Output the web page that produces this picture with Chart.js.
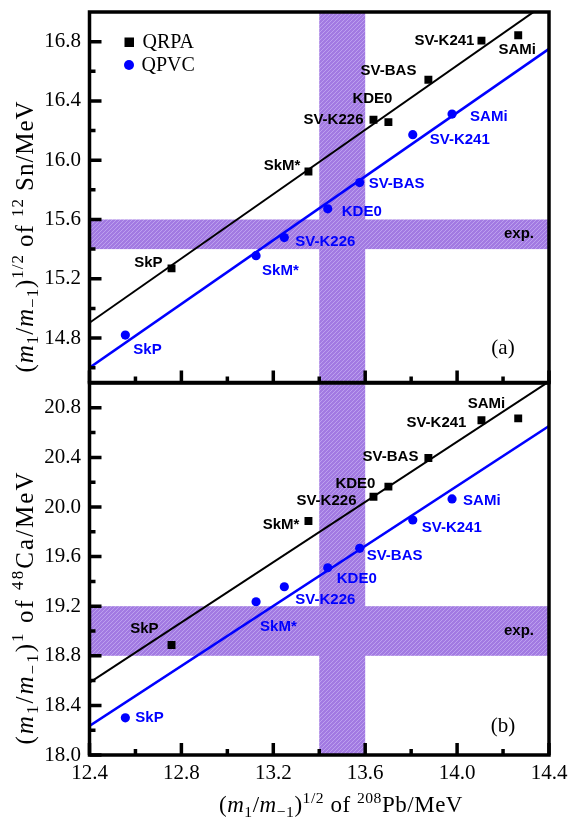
<!DOCTYPE html>
<html><head><meta charset="utf-8">
<script src="https://cdn.jsdelivr.net/npm/chart.js@4.4.1/dist/chart.umd.min.js"></script>
<style>
html,body{margin:0;padding:0;background:#fff;}
#wrap{position:relative;width:576px;height:817px;overflow:hidden;background:#fff;}
canvas{position:absolute;left:0;}
#ca{top:0;}
#cb{top:370px;}
</style></head><body>
<div id="wrap"><canvas id="ca" width="576" height="395"></canvas><canvas id="cb" width="576" height="447"></canvas></div>
<script>
// ---------------- data ----------------
const models   = ['SkP','SkM*','SV-K226','KDE0','SV-BAS','SV-K241','SAMi'];
const pbQRPA   = [12.757,13.353,13.636,13.701,13.875,14.106,14.266];
const pbQPVC   = [12.556,13.125,13.248,13.437,13.576,13.807,13.978];
const snQRPA   = [15.27,15.924,16.273,16.257,16.543,16.807,16.843];
const snQPVC   = [14.82,15.356,15.478,15.672,15.849,16.172,16.311];
const caQRPA   = [18.887,19.887,20.083,20.164,20.395,20.699,20.715];
const caQPVC   = [18.30,19.236,19.357,19.51,19.667,19.895,20.065];
const fitX      = [12.4,14.4];
const snQRPAfit = [14.903,17.073];
const snQPVCfit = [14.600,16.751];
const caQRPAfit = [18.583,21.012];
const caQPVCfit = [18.234,20.653];
const expPb = [13.4,13.6];
const expSn = [15.4,15.6];
const expCa = [18.8,19.2];
const xRange  = [12.4,14.4];
const snRange = [14.5,17.0];
const caRange = [18.0,21.0];
const xTicks  = [12.4,12.8,13.2,13.6,14.0,14.4];
const snTicks = [14.8,15.2,15.6,16.0,16.4,16.8];
const caTicks = [18.0,18.4,18.8,19.2,19.6,20.0,20.4,20.8];

// ---------------- styles ----------------
const serif = '"Liberation Serif","Times New Roman",serif';
const sans  = '"Liberation Sans",Arial,sans-serif';
const labelFont = 'bold 15px ' + sans;
const BLUE = '#0000ff';
const offQRPA_a = [[-9,-6,'right'],[-8,-6,'right'],[-10,0,'right'],[4,-23,'right'],[-12,-9,'right'],[-7,0,'right'],[-1,15,'center']];
const offQPVC_a = [[8,15,'left'],[6,15,'left'],[11,4,'left'],[14,3,'left'],[9,1,'left'],[17,5,'left'],[18,3,'left']];
const offQRPA_b = [[-13,-16,'right'],[-9,4,'right'],[-17,4,'right'],[-13,-3,'right'],[-10,-1,'right'],[-15,3,'right'],[-13,-14,'right']];
const offQPVC_b = [[10,0,'left'],[4,25,'left'],[11,13,'left'],[9,11,'left'],[7,8,'left'],[9,8,'left'],[11,2,'left']];

const titleX = [['(', 'n'],['m','i'],['1','sub'],['/','n'],['m','i'],['\u22121','sub'],[')','n'],['1/2','sup'],[' of ','n'],['208','sup'],['Pb/MeV','n']];
const titleSn = [['(', 'n'],['m','i'],['1','sub'],['/','n'],['m','i'],['\u22121','sub'],[')','n'],['1/2','sup'],[' of ','n'],['12','sup'],[' Sn/MeV','n']];
const titleCa = [['(', 'n'],['m','i'],['1','sub'],['/','n'],['m','i'],['\u22121','sub'],[')','n'],['1','sup'],[' of ','n'],['48','sup'],['Ca/MeV','n']];

function makePattern(ctx){
  const c = document.createElement('canvas'); c.width = 4; c.height = 4;
  const g = c.getContext('2d');
  g.fillStyle = 'rgb(162,122,226)'; g.fillRect(0,0,4,4);
  g.strokeStyle = 'rgb(188,160,238)'; g.lineWidth = 1;
  g.beginPath(); g.moveTo(-1,5); g.lineTo(5,-1); g.stroke();
  return ctx.createPattern(c,'repeat');
}

function drawRich(ctx, segs, x, y, size, rotate, target){
  ctx.save(); ctx.translate(x,y); if (rotate) ctx.rotate(-Math.PI/2);
  const small = size*0.68;
  const parts = segs.map(([t,k])=>{
    const sz = (k==='sub'||k==='sup') ? small : size;
    const font = (k==='i'?'italic ':'') + sz + 'px ' + serif;
    ctx.font = font;
    return {t,k,font,w:ctx.measureText(t).width};
  });
  let total = parts.reduce((a,p)=>a+p.w,0);
  const nch = parts.reduce((a,p)=>a+p.t.length,0);
  const sp = target ? Math.max(0,(target-total)/nch) : 0;
  total += sp*nch;
  let cx = -total/2;
  ctx.textBaseline = 'alphabetic'; ctx.textAlign = 'left'; ctx.fillStyle = '#000';
  parts.forEach(p=>{
    ctx.font = p.font;
    let dy = 0;
    if (p.k==='sub') dy = size*0.2;
    if (p.k==='sup') dy = -size*0.4;
    for (const ch of p.t){
      ctx.fillText(ch, cx, dy);
      cx += ctx.measureText(ch).width + sp;
    }
  });
  ctx.restore();
}

function minorOf(ticks, range){
  const step = ticks[1]-ticks[0];
  const out = [];
  const cand = [ticks[0]-step/2, ...ticks.map(t=>t+step/2)];
  cand.forEach(v=>{ if (v>range[0]+1e-9 && v<range[1]-1e-9) out.push(v); });
  return out;
}

function pts(xs, ys){ return xs.map((x,i)=>({x, y:ys[i]})); }

function panel(id, c){
  const canvas = document.getElementById(id);
  const ctx0 = canvas.getContext('2d');
  const pattern = makePattern(ctx0);
  const deco = {
    id: 'deco',
    beforeDatasetsDraw(chart){
      const {ctx, chartArea:a, scales:{x,y}} = chart;
      ctx.save();
      ctx.beginPath(); ctx.rect(a.left,a.top,a.right-a.left,a.bottom-a.top); ctx.clip();
      ctx.fillStyle = pattern;
      const y1 = y.getPixelForValue(c.expY[1]), y0 = y.getPixelForValue(c.expY[0]);
      ctx.fillRect(a.left, y1, a.right-a.left, y0-y1);
      const x0 = x.getPixelForValue(expPb[0]), x1 = x.getPixelForValue(expPb[1]);
      ctx.fillRect(x0, a.top, x1-x0, a.bottom-a.top);
      ctx.restore();
    },
    afterDatasetsDraw(chart){
      const {ctx, chartArea:a, scales:{x,y}} = chart;
      ctx.save();
      ctx.font = labelFont; ctx.textBaseline = 'middle';
      chart.data.datasets.forEach((ds,i)=>{
        if (!ds.pointLabels) return;
        const meta = chart.getDatasetMeta(i);
        ctx.fillStyle = ds.labelColor;
        meta.data.forEach((el,j)=>{
          const o = ds.labelOffsets[j];
          ctx.textAlign = o[2];
          ctx.fillText(ds.pointLabels[j], el.x+o[0], el.y+o[1]);
        });
      });
      ctx.fillStyle = '#000'; ctx.textAlign = 'right';
      ctx.fillText('exp.', a.right-15, (y.getPixelForValue(c.expY[0])+y.getPixelForValue(c.expY[1]))/2);
      ctx.font = '21px ' + serif; ctx.textAlign = 'center';
      ctx.fillText(c.panelLabel, a.right-46, a.bottom-c.panelDy);
      if (c.legend){
        ctx.fillStyle = '#000';
        ctx.fillRect(a.left+35, a.top+25.5, 9.5, 9.5);
        ctx.fillStyle = BLUE;
        ctx.beginPath(); ctx.arc(a.left+39.5, a.top+53, 5, 0, Math.PI*2); ctx.fill();
        ctx.fillStyle = '#000'; ctx.textAlign = 'left'; ctx.font = '20px ' + serif;
        ctx.fillText('QRPA', a.left+53, a.top+30.5);
        ctx.fillText('QPVC', a.left+52, a.top+53.5);
      }
      ctx.restore();
    },
    afterDraw(chart){
      const {ctx, chartArea:a, scales:{x,y}} = chart;
      ctx.save();
      ctx.strokeStyle = '#000'; ctx.lineWidth = 3.5;
      ctx.strokeRect(a.left, a.top, a.right-a.left, a.bottom-a.top);
      ctx.lineCap = 'butt';
      ctx.beginPath();
      xTicks.forEach(v=>{ const px = x.getPixelForValue(v); ctx.moveTo(px,a.bottom); ctx.lineTo(px,a.bottom-12); });
      minorOf(xTicks,xRange).forEach(v=>{ const px = x.getPixelForValue(v); ctx.moveTo(px,a.bottom); ctx.lineTo(px,a.bottom-6); });
      c.yTicks.forEach(v=>{ const py = y.getPixelForValue(v); ctx.moveTo(a.left,py); ctx.lineTo(a.left+12,py); });
      minorOf(c.yTicks,c.yRange).forEach(v=>{ const py = y.getPixelForValue(v); ctx.moveTo(a.left,py); ctx.lineTo(a.left+6,py); });
      ctx.stroke();
      drawRich(ctx, c.yTitle, 33, c.yTitleY, 25, true, c.yTitleLen);
      if (c.xTitle) drawRich(ctx, c.xTitle, 341, a.bottom+57, 23, false, 244);
      ctx.restore();
    }
  };
  const tickFont = {family: serif, size: 21};
  return new Chart(canvas, {
    type: 'scatter',
    data: { datasets: [
      { data: pts(pbQRPA, c.qrpa), pointStyle:'rect', pointRadius:5.6, backgroundColor:'#000', borderWidth:0,
        pointLabels: models, labelOffsets: c.offQRPA, labelColor:'#000' },
      { data: pts(pbQPVC, c.qpvc), pointStyle:'circle', pointRadius:4.6, backgroundColor:BLUE, borderWidth:0,
        pointLabels: models, labelOffsets: c.offQPVC, labelColor:BLUE },
      { data: pts(fitX, c.qrpaFit), showLine:true, borderColor:'#000', borderWidth:2, pointRadius:0, clip:0 },
      { data: pts(fitX, c.qpvcFit), showLine:true, borderColor:BLUE, borderWidth:2.5, pointRadius:0, clip:0 }
    ]},
    options: {
      responsive:false, animation:false, events:[],
      layout:{ padding:{ left:0, right:27, top:c.padTop, bottom:c.padBottom } },
      plugins:{ legend:{display:false}, tooltip:{enabled:false} },
      scales:{
        x:{ type:'linear', min:xRange[0], max:xRange[1], display:c.showX,
            grid:{display:false, drawTicks:false}, border:{display:false},
            ticks:{ font:tickFont, color:'#000', padding:6, autoSkip:false, maxRotation:0, callback:v=>v.toFixed(1) },
            afterBuildTicks:s=>{ s.ticks = xTicks.map(v=>({value:v})); },
            afterFit:s=>{ s.height = c.showX ? 62 : 0; s.paddingLeft = 0; s.paddingRight = 0; s.paddingTop = 0; s.paddingBottom = 0; } },
        y:{ type:'linear', min:c.yRange[0], max:c.yRange[1],
            grid:{display:false, drawTicks:false}, border:{display:false},
            ticks:{ font:tickFont, color:'#000', padding:8.5, autoSkip:false, callback:v=>v.toFixed(1) },
            afterBuildTicks:s=>{ s.ticks = c.yTicks.map(v=>({value:v})); },
            afterFit:s=>{ s.width = 89.5; s.paddingTop = 0; s.paddingBottom = 0; s.paddingLeft = 0; s.paddingRight = 0; } }
      }
    },
    plugins:[deco]
  });
}

panel('ca', { qrpa:snQRPA, qpvc:snQPVC, qrpaFit:snQRPAfit, qpvcFit:snQPVCfit, expY:expSn,
  yRange:snRange, yTicks:snTicks, offQRPA:offQRPA_a, offQPVC:offQPVC_a,
  padTop:12, padBottom:12.5, showX:false, panelLabel:'(a)', panelDy:34, legend:true,
  yTitle:titleSn, yTitleY:236.5, yTitleLen:272, xTitle:null });
panel('cb', { qrpa:caQRPA, qpvc:caQPVC, qrpaFit:caQRPAfit, qpvcFit:caQPVCfit, expY:expCa,
  yRange:caRange, yTicks:caTicks, offQRPA:offQRPA_b, offQPVC:offQPVC_b,
  padTop:13, padBottom:0, showX:true, panelLabel:'(b)', panelDy:29, legend:false,
  yTitle:titleCa, yTitleY:237.5, yTitleLen:274, xTitle:titleX });
</script>
</body></html>
